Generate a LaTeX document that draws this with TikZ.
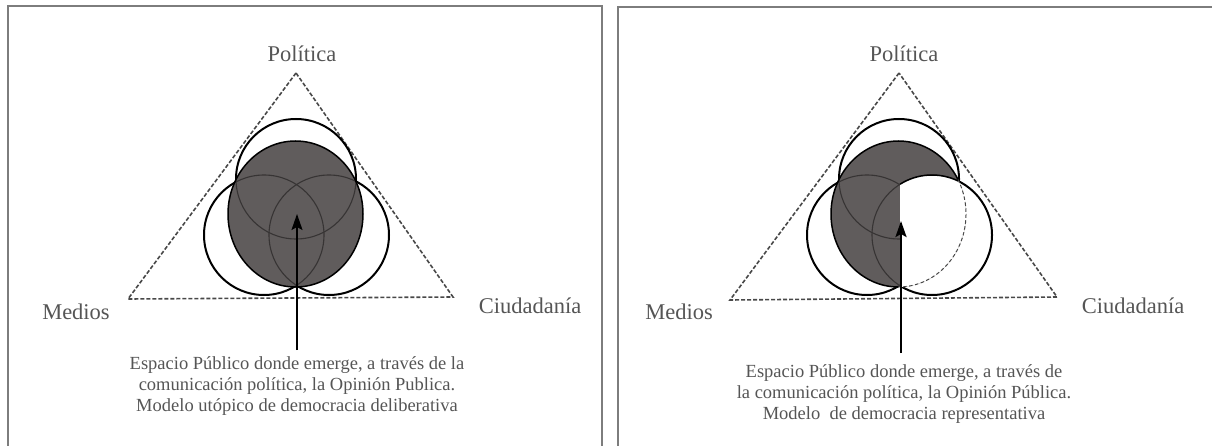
\documentclass[tikz,border=0pt]{standalone}
\usepackage{fontspec}
\setmainfont{Liberation Serif}
\usetikzlibrary{arrows.meta}
\definecolor{framegray}{RGB}{125,125,125}
\definecolor{txtgray}{RGB}{85,85,85}
\definecolor{fillgray}{RGB}{96,92,92}
\definecolor{arcgray}{RGB}{55,52,52}
\definecolor{trigray}{RGB}{72,72,72}
\begin{document}
\begin{tikzpicture}[x=1pt,y=-1pt,
  frame/.style={draw=framegray,line width=1.6pt},
  tri/.style={draw=trigray,line width=1.6pt,dash pattern=on 4pt off 2pt},
  ring/.style={draw=black,line width=2pt},
  innerarc/.style={draw=arcgray,line width=1.1pt},
  blob/.style={fill=fillgray},
  bloboutline/.style={draw=black,line width=1.5pt},
  hidden/.style={draw=trigray,line width=1pt,dash pattern=on 3.5pt off 2.5pt},
  lbl/.style={text=txtgray,font=\fontsize{22.5}{27}\selectfont,inner sep=0pt},
  caption/.style={text=txtgray,font=\fontsize{18.5}{21}\selectfont,align=center,inner sep=0pt},
  pointer/.style={draw=black,line width=1.6pt,-{Stealth[length=16pt,width=11pt,inset=3pt]}},
]
\useasboundingbox (0,0) rectangle (1212,446);
% frames
\draw[frame] (8,452) -- (8,6) -- (602,6) -- (602,452);
\draw[frame] (618,452) -- (618,7) -- (1216,7);

% ---------------- left panel ----------------
\coordinate (LA) at (296,73);
\coordinate (LB) at (128,299);
\coordinate (LC) at (453,297);
\coordinate (LT) at (296,179);
\coordinate (LL) at (264,235);
\coordinate (LR) at (329,235);
\coordinate (LE) at (295.5,214);
\draw[tri] (LA) -- (LB) -- (LC) -- cycle;
\draw[ring] (LT) circle[radius=60pt];
\draw[ring] (LL) circle[radius=60pt];
\draw[ring] (LR) circle[radius=60pt];
\fill[blob] (LE) ellipse[x radius=67.5pt,y radius=73pt];
\begin{scope}
  \clip (LE) ellipse[x radius=67.5pt,y radius=73pt];
  \draw[innerarc] (LT) circle[radius=60pt];
  \draw[innerarc] (LL) circle[radius=60pt];
  \draw[innerarc] (LR) circle[radius=60pt];
\end{scope}
\draw[bloboutline] (LE) ellipse[x radius=67.5pt,y radius=73pt];
\node[lbl] (polL) at (302,54) {Política};
\node[lbl] (medL) at (76,312) {Medios};
\node[lbl] (ciuL) at (530,306) {Ciudadanía};
\node[caption,anchor=north] (capL) at (297,356)
  {Espacio Público donde emerge, a través de la\\
   comunicación política, la Opinión Publica.\\
   Modelo utópico de democracia deliberativa};
\coordinate (baseL) at (297,350);
\coordinate (tipL) at (297,214);
\draw[pointer] (baseL) -- (tipL);

% ---------------- right panel ----------------
\coordinate (RA) at (899,73);
\coordinate (RB) at (730,300);
\coordinate (RC) at (1057,297);
\coordinate (RT) at (899,179);
\coordinate (RL) at (867,235);
\coordinate (RR) at (932,235);
\coordinate (RE) at (898.5,214);
\draw[tri] (RA) -- (RB) -- (RC) -- cycle;
\draw[ring] (RT) circle[radius=60pt];
\draw[ring] (RL) circle[radius=60pt];
\draw[ring] (RR) circle[radius=60pt];
\fill[blob] (RE) ellipse[x radius=67.5pt,y radius=73pt];
\begin{scope}
  \clip (RE) ellipse[x radius=67.5pt,y radius=73pt];
  \draw[innerarc] (RT) circle[radius=60pt];
  \draw[innerarc] (RL) circle[radius=60pt];
  \draw[innerarc] (RR) circle[radius=60pt];
  \fill[white] (RR) ++(122.2:60pt) arc[start angle=122.2,end angle=-122.2,radius=60pt] -- cycle;
\end{scope}
\draw[bloboutline] (RE) ++(-90:67.5pt and 73pt)
  arc[start angle=-90,end angle=-331.8,x radius=67.5pt,y radius=73pt];
\draw[hidden] (RE) ++(28.2:67.5pt and 73pt)
  arc[start angle=28.2,end angle=-90,x radius=67.5pt,y radius=73pt];
\draw[bloboutline] (RR) ++(122.2:60pt) arc[start angle=122.2,end angle=64.3,radius=60pt];
\node[lbl] (polR) at (904,54) {Política};
\node[lbl] (medR) at (679,312) {Medios};
\node[lbl] (ciuR) at (1133,306) {Ciudadanía};
\node[caption,anchor=north] (capR) at (904,364)
  {Espacio Público donde emerge, a través de\\
   la comunicación política, la Opinión Pública.\\
   Modelo\ \ de democracia representativa};
\coordinate (baseR) at (901,353);
\coordinate (tipR) at (901,221);
\draw[pointer,line width=2.4pt] (baseR) -- (tipR);
\end{tikzpicture}
\end{document}
